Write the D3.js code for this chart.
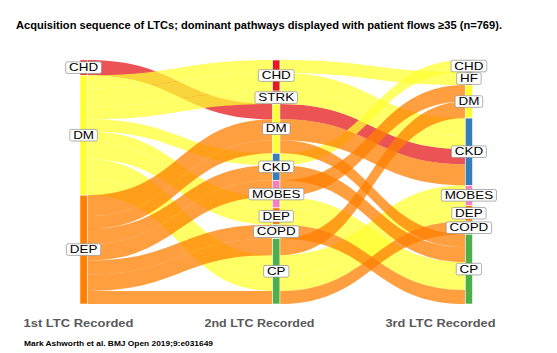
<!DOCTYPE html>
<html>
<head>
<meta charset="utf-8">
<script src="https://cdn.jsdelivr.net/npm/d3@7"></script>
<style>
body { margin: 0; background: #fff; }
text { font-family: "Liberation Sans", Arial, sans-serif; }
</style>
</head>
<body>
<svg id="chart"></svg>
<script>
// axes of the alluvial plot
const stages = ["1st LTC Recorded", "2nd LTC Recorded", "3rd LTC Recorded"]
const stage1Ltcs = ["CHD", "DM", "DEP"]
const stage2Ltcs = ["CHD", "STRK", "DM", "CKD", "MOBES", "DEP", "COPD", "CP"]
const stage3Ltcs = ["CHD", "HF", "DM", "CKD", "MOBES", "DEP", "COPD", "CP"]

// dominant pathways (patients >= 35)
const firstLtc  = ["CHD", "DM",  "DM",  "DM",   "DM",  "DM",    "DM",  "DM",    "DM",  "DEP", "DEP", "DEP", "DEP",   "DEP",  "DEP",  "DEP"]
const secondLtc = ["DM",  "CHD", "CHD", "STRK", "CKD", "MOBES", "DEP", "CP",    "CP",  "DM",  "DM",  "CKD", "MOBES", "COPD", "CP",   "CP"]
const thirdLtc  = ["CKD", "HF",  "CKD", "CKD",  "CHD", "CP",    "CP",  "MOBES", "DEP", "CKD", "CP",  "CP",  "DM",    "CP",   "COPD", "DM"]
const patients  = [48,    41,    57,    41,     38,    35,      53,    63,      50,    66,    41,    47,    52,      44,     41,     52]

const title = "Acquisition sequence of LTCs; dominant pathways displayed with patient flows \u226535 (n=769)."
const source = "Mark Ashworth et al. BMJ Open 2019;9:e031649"

const ltcColour = {
    CHD: "#e41a1c", STRK: "#e41a1c", DM: "#ffff33", DEP: "#ff7f00",
    CKD: "#377eb8", MOBES: "#f781bf", COPD: "#4daf4a", CP: "#4daf4a", HF: "#a65628"
}

const W = 557, H = 353
const barW = 7.3
let svg = d3.select("#chart").attr("width", W).attr("height", H)

const levels = [stage1Ltcs, stage2Ltcs, stage3Ltcs]
let flows = patients.map((n, i) => ({
    n: n,
    path: [firstLtc[i], secondLtc[i], thirdLtc[i]],
    pos: []
}))

const total = d3.sum(patients)
let x = d3.scalePoint().domain(stages).range([83.6, 468.9])
let y = d3.scaleLinear().domain([0, total]).range([60, 304])

// order of lodes inside a stratum: by the neighbouring axes
let rank = (a, ltc) => levels[a].indexOf(ltc)
let keysFor = [[1, 2], [2, 0], [1, 0]]
let lodeOrder = a => (p, q) => {
    for (let k of keysFor[a]) {
        let d = rank(k, p.path[k]) - rank(k, q.path[k])
        if (d !== 0) return d
    }
    return 0
}

let nodes = []
levels.forEach((list, a) => {
    let acc = 0
    list.forEach(ltc => {
        let members = flows.filter(f => f.path[a] === ltc).sort(lodeOrder(a))
        let n = d3.sum(members, f => f.n)
        nodes.push({ a: a, ltc: ltc, v0: acc, v1: acc + n })
        let s = acc
        members.forEach(f => { f.pos[a] = [s, s + f.n]; s += f.n })
        acc += n
    })
})

let ribbon = (f, a) => {
    let x0 = x(stages[a]) + barW / 2
    let x1 = x(stages[a + 1]) - barW / 2
    let xm = (x0 + x1) / 2
    let t0 = y(f.pos[a][0]), b0 = y(f.pos[a][1])
    let t1 = y(f.pos[a + 1][0]), b1 = y(f.pos[a + 1][1])
    return `M${x0},${t0}C${xm},${t0} ${xm},${t1} ${x1},${t1}` +
        `L${x1},${b1}C${xm},${b1} ${xm},${b0} ${x0},${b0}Z`
}

// red first, then yellow, orange on top
let drawOrder = flows.slice().sort((p, q) => rank(0, p.path[0]) - rank(0, q.path[0]))
let segs = []
drawOrder.forEach(f => { segs.push([f, 0]); segs.push([f, 1]) })

svg.append("g").selectAll("path")
    .data(segs)
    .enter()
    .append("path")
    .attr("d", d => ribbon(d[0], d[1]))
    .attr("fill", d => ltcColour[d[0].path[0]])
    .attr("fill-opacity", 0.75)

svg.append("g").selectAll("rect")
    .data(nodes)
    .enter()
    .append("rect")
    .attr("x", d => x(stages[d.a]) - barW / 2)
    .attr("y", d => y(d.v0))
    .attr("width", barW)
    .attr("height", d => y(d.v1) - y(d.v0))
    .attr("fill", d => ltcColour[d.ltc])
    .attr("stroke", "#fff")
    .attr("stroke-width", 0.6)

// stratum labels
let labels = svg.append("g").selectAll("g")
    .data(nodes)
    .enter()
    .append("g")
    .attr("transform", d => `translate(${x(stages[d.a])},${y((d.v0 + d.v1) / 2)}) scale(1.28,1)`)

labels.append("text")
    .attr("text-anchor", "middle")
    .attr("dy", "0.36em")
    .attr("font-size", 10.5)
    .attr("fill", "#000")
    .text(d => d.ltc)

labels.insert("rect", "text")
    .each(function () {
        let w = this.parentNode.querySelector("text").getComputedTextLength()
        d3.select(this)
            .attr("x", -w / 2 - 2.6)
            .attr("y", -5.8)
            .attr("width", w + 5.2)
            .attr("height", 11.6)
    })
    .attr("rx", 1.5)
    .attr("fill", "#fff")
    .attr("stroke", "#8c8c8c")
    .attr("stroke-width", 0.6)

// axis titles
let stageTitle = d3.scalePoint().domain(stages).range([78.5, 440.5])
svg.append("g").selectAll("text")
    .data(stages)
    .enter()
    .append("text")
    .attr("x", d => stageTitle(d))
    .attr("y", 327.3)
    .attr("text-anchor", "middle")
    .attr("font-size", 11.2)
    .attr("font-weight", "bold")
    .attr("fill", "#595959")
    .attr("textLength", 110)
    .attr("lengthAdjust", "spacingAndGlyphs")
    .text(d => d)

svg.append("text")
    .attr("x", 259)
    .attr("y", 28.5)
    .attr("text-anchor", "middle")
    .attr("font-size", 10.9)
    .attr("font-weight", "bold")
    .attr("fill", "#000")
    .attr("textLength", 486)
    .attr("lengthAdjust", "spacingAndGlyphs")
    .text(title)

svg.append("text")
    .attr("x", 24)
    .attr("y", 346)
    .attr("font-size", 7.2)
    .attr("font-weight", "bold")
    .attr("fill", "#000")
    .attr("textLength", 189)
    .attr("lengthAdjust", "spacingAndGlyphs")
    .text(source)
</script>
</body>
</html>
